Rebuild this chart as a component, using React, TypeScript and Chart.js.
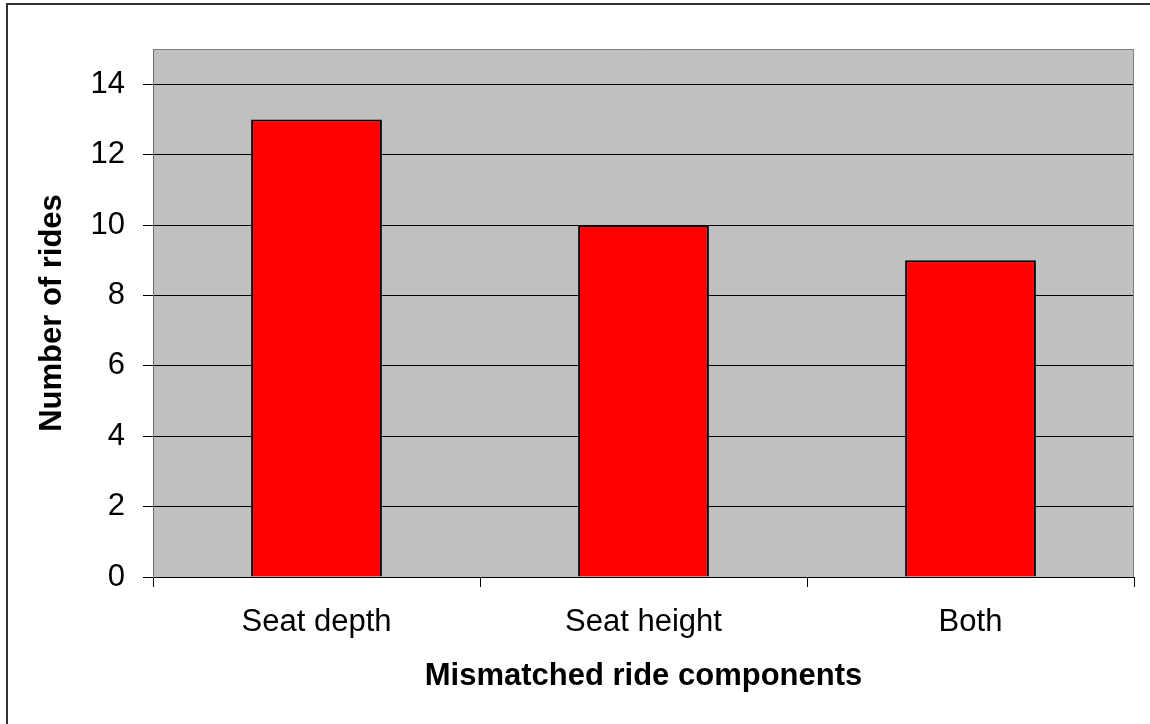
import React, { useEffect, useRef } from "react";
import { Chart, registerables } from "chart.js";

Chart.register(...registerables);

const categories = ["Seat depth", "Seat height", "Both"];
const rides = [13, 10, 9];
const yTickValues = [0, 2, 4, 6, 8, 10, 12, 14];
const yAxisMin = 0;
const yAxisMax = 15;
const xTitle = "Mismatched ride components";
const yTitle = "Number of rides";

const FONT = '"Liberation Sans", Arial, Helvetica, sans-serif';

export default function App() {
  const ref = useRef<HTMLCanvasElement>(null);

  useEffect(() => {
    if (!ref.current) return;
    const plotFrame = {
      id: "plotFrame",
      beforeDraw(chart: any) {
        const { ctx, chartArea: a } = chart;
        ctx.save();
        ctx.fillStyle = "#C0C0C0";
        ctx.fillRect(a.left, a.top, a.right - a.left, a.bottom - a.top);
        ctx.restore();
      },
      afterDraw(chart: any) {
        const { ctx, chartArea: a } = chart;
        ctx.save();
        ctx.strokeStyle = "#808080";
        ctx.lineWidth = 1;
        ctx.beginPath();
        ctx.moveTo(Math.round(a.left) + 0.5, Math.round(a.top) + 0.5);
        ctx.lineTo(Math.round(a.right) - 0.5, Math.round(a.top) + 0.5);
        ctx.lineTo(Math.round(a.right) - 0.5, Math.round(a.bottom));
        ctx.stroke();
        ctx.restore();
      },
    };

    const chart = new Chart(ref.current, {
      type: "bar",
      data: {
        labels: categories,
        datasets: [
          {
            data: rides,
            backgroundColor: "#FF0000",
            borderColor: "#000000",
            borderWidth: 2,
            barPercentage: 0.4,
            categoryPercentage: 1,
          },
        ],
      },
      options: {
        responsive: false,
        animation: false,
        devicePixelRatio: 1,
        layout: { padding: { top: 49, right: 16, left: 0, bottom: 0 } },
        plugins: {
          legend: { display: false },
          tooltip: { enabled: false },
        },
        scales: {
          x: {
            grid: {
              offset: true,
              drawOnChartArea: false,
              drawTicks: true,
              tickLength: 10,
              color: "#000000",
            },
            border: { color: "#000000", width: 1 },
            ticks: {
              color: "#000000",
              font: { family: FONT, size: 31 },
              padding: 17,
              maxRotation: 0,
            },
            title: {
              display: true,
              text: xTitle,
              color: "#000000",
              font: { family: FONT, size: 31, weight: "bold" },
              padding: { top: 0, bottom: 29 },
            },
            afterFit: (s: any) => {
              s.height = 147;
            },
          },
          y: {
            min: yAxisMin,
            max: yAxisMax,
            afterBuildTicks: (s: any) => {
              s.ticks = yTickValues.map((v) => ({ value: v }));
            },
            grid: {
              color: "#000000",
              drawTicks: true,
              tickLength: 10,
            },
            border: { color: "#707070", width: 1 },
            ticks: {
              color: "#000000",
              font: { family: FONT, size: 31 },
              padding: 18,
            },
            title: {
              display: true,
              text: yTitle,
              color: "#000000",
              font: { family: FONT, size: 31, weight: "bold" },
              padding: { top: 34, bottom: 0 },
            },
            afterFit: (s: any) => {
              s.width = 153;
            },
          },
        },
      },
      plugins: [plotFrame],
    });
    return () => chart.destroy();
  }, []);

  return (
    <div
      style={{
        position: "fixed",
        left: 0,
        top: 0,
        width: 1150,
        height: 724,
        background: "#ffffff",
        overflow: "hidden",
      }}
    >
      <canvas
        ref={ref}
        width={1150}
        height={724}
        style={{ position: "absolute", left: 0, top: 0, width: 1150, height: 724 }}
      />
      <div
        style={{
          position: "absolute",
          left: 6,
          top: 3,
          width: 1300,
          height: 900,
          borderTop: "2px solid #333333",
          borderLeft: "2px solid #333333",
          pointerEvents: "none",
        }}
      />
    </div>
  );
}
